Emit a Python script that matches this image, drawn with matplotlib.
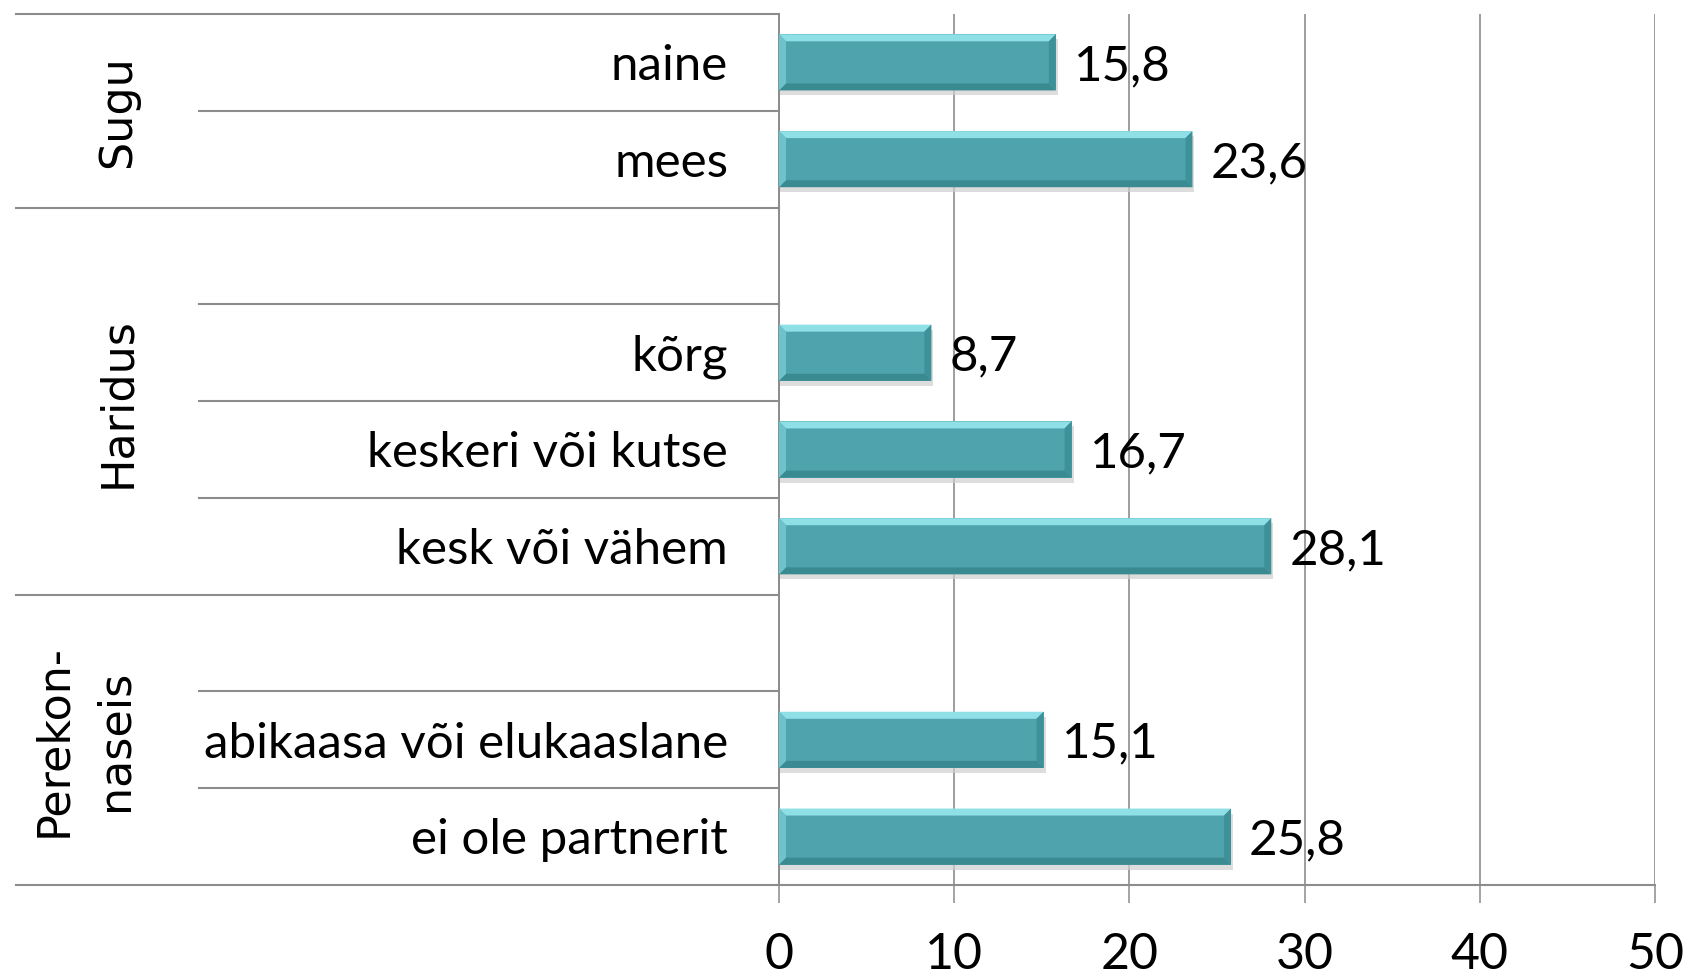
import matplotlib
matplotlib.use("Agg")
import matplotlib.pyplot as plt
import matplotlib.transforms as mtransforms
from matplotlib.patches import Polygon, Rectangle

# ---------------- data ----------------
categories = ["naine", "mees", "", "kõrg", "keskeri või kutse", "kesk või vähem",
              "", "abikaasa või elukaaslane", "ei ole partnerit"]
values = [15.8, 23.6, None, 8.7, 16.7, 28.1, None, 15.1, 25.8]
group_names = ["Sugu", "Haridus", "Perekon-\nnaseis"]
group_sizes = [2, 4, 3]
xticks = [0, 10, 20, 30, 40, 50]

# ---------------- style ----------------
W, H = 1688, 979
FONT = ["Lato", "DejaVu Sans"]
GROUP_FONT = ["DejaVu Sans"]
GRID = "#8c8c8c"
BAR = "#4ea3ad"
BAR_TOP = "#8fdfe7"
BAR_LEFT = "#6cc3cc"
BAR_RIGHT = "#3f9199"
BAR_BOT = "#3a8a92"
SHADOW = "#cfcfcf"

fig = plt.figure(figsize=(W / 100, H / 100), dpi=100)
ax_left, ax_right, ax_top, ax_bot = 779, 1655, 15, 886
ax = fig.add_axes([ax_left / W, 1 - ax_bot / H, (ax_right - ax_left) / W, (ax_bot - ax_top) / H])

n = len(categories)
ax.set_xlim(0, 50)
ax.set_ylim(n - 0.5, -0.5)

# grid / spines
ax.set_xticks(xticks)
ax.set_xticklabels([str(t) for t in xticks], fontsize=36, family=FONT)
ax.set_yticks([])
ax.tick_params(axis="x", length=13, width=1.1, color=GRID, pad=20)
ax.grid(axis="x", color=GRID, linewidth=1.2, zorder=0)
ax.set_axisbelow(True)
for s in ["top", "right"]:
    ax.spines[s].set_visible(False)
ax.spines["left"].set_color(GRID)
ax.spines["left"].set_linewidth(1.4)
ax.spines["bottom"].set_color(GRID)
ax.spines["bottom"].set_linewidth(1.5)

# bars with bevel look
bh = 0.58
px_x = (ax_right - ax_left) / 50.0          # pixels per data unit (x)
px_y = (ax_bot - ax_top) / n                # pixels per row
bx = 7 / px_x
by = 7 / px_y
sx = 4 / px_x
sy = 5 / px_y
for i, v in enumerate(values):
    if v is None:
        continue
    y0, y1 = i - bh / 2, i + bh / 2
    # shadow
    ax.add_patch(Rectangle((0, y0 + sy), v + sx * 0.5, bh, facecolor=SHADOW,
                           edgecolor="none", alpha=0.7, zorder=2))
    ax.barh(i, v, height=bh, color=BAR, edgecolor="none", zorder=3)
    # bevels
    ax.add_patch(Polygon([(0, y0), (v, y0), (v - bx, y0 + by), (bx, y0 + by)],
                         closed=True, facecolor=BAR_TOP, edgecolor="none", zorder=4))
    ax.add_patch(Polygon([(0, y1), (v, y1), (v - bx, y1 - by), (bx, y1 - by)],
                         closed=True, facecolor=BAR_BOT, edgecolor="none", zorder=4))
    ax.add_patch(Polygon([(0, y0), (bx, y0 + by), (bx, y1 - by), (0, y1)],
                         closed=True, facecolor=BAR_LEFT, edgecolor="none", zorder=4))
    ax.add_patch(Polygon([(v, y0), (v - bx, y0 + by), (v - bx, y1 - by), (v, y1)],
                         closed=True, facecolor=BAR_RIGHT, edgecolor="none", zorder=4))
    # value label
    ax.annotate(f"{v:.1f}".replace(".", ","), xy=(v, i), xytext=(13, -2),
                textcoords="offset points", ha="left", va="center",
                fontsize=35.5, family=FONT, zorder=5)

# table on the left (blended: x in figure pixels -> fraction, y in data)
tr = mtransforms.blended_transform_factory(fig.transFigure, ax.transData)
x_outer = 16 / W
x_inner = 199 / W
x_axis = ax_left / W
x_label = 728 / W
off = mtransforms.ScaledTranslation(0, -2 / 72, fig.dpi_scale_trans)

for i, c in enumerate(categories):
    if c:
        ax.text(x_label, i, c, transform=tr + off, ha="right", va="center",
                fontsize=35.5, family=FONT)

start = 0
boundaries_outer = [-0.5]
for g, size in zip(group_names, group_sizes):
    end = start + size
    boundaries_outer.append(end - 0.5)
    for k in range(start + 1, end):
        ax.plot([x_inner, x_axis], [k - 0.5, k - 0.5], transform=tr, color=GRID,
                linewidth=1.5, clip_on=False, zorder=1)
    xc = (118 if "\n" not in g else 84) / W
    ax.text(xc, (start + end - 1) / 2, g, transform=tr, rotation=90, ha="center",
            va="center", multialignment="center", linespacing=1.55,
            fontsize=32, family=GROUP_FONT)
    start = end

for b in boundaries_outer:
    ax.plot([x_outer, x_axis], [b, b], transform=tr, color=GRID,
            linewidth=1.5, clip_on=False, zorder=1)

fig.savefig("out.png", dpi=100, facecolor="white")
